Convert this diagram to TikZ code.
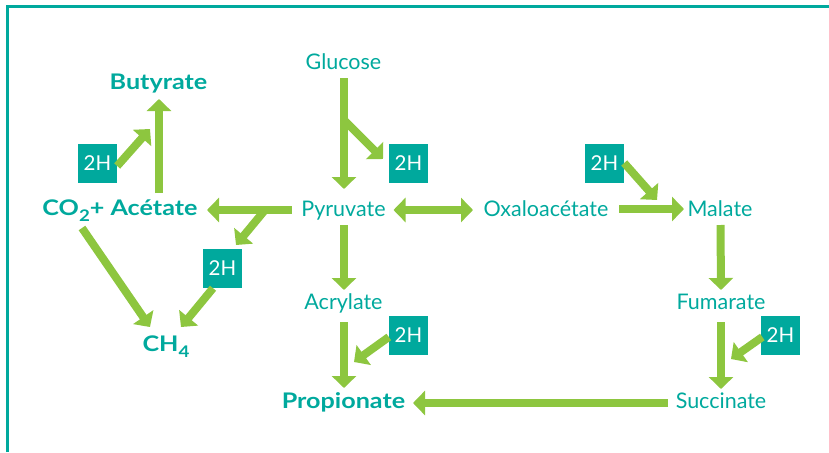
\documentclass[tikz,border=0pt]{standalone}
\usepackage{fontspec}
\setmainfont{Lato}
\newfontfamily\wideb[FakeStretch=1.17]{Lato Bold}
\usetikzlibrary{arrows.meta}
\definecolor{tealc}{HTML}{00A99D}
\definecolor{greenc}{HTML}{8DC63F}
\newcommand{\lowsub}[1]{\raisebox{-6pt}{\fontsize{16}{16}\selectfont #1}}
\tikzset{
  lbl/.style={text=tealc, font=\fontsize{21.5}{24}\selectfont, inner sep=0pt, anchor=base},
  blbl/.style={lbl, font=\fontsize{21.5}{24}\selectfont\wideb},
  hbox/.style={fill=tealc, text=white, minimum width=39pt, minimum height=39pt, inner sep=0pt, font=\fontsize{20.5}{24}\selectfont},
  arr/.style={draw=greenc, line width=8pt, -{Triangle[width=24pt,length=12pt]}},
  darr/.style={draw=greenc, line width=8pt, {Triangle[width=24pt,length=12pt]}-{Triangle[width=24pt,length=12pt]}},
}
\begin{document}
\begin{tikzpicture}[x=1pt,y=-1pt]
\useasboundingbox (0,0) rectangle (829,452);
\draw[tealc, line width=3pt] (7,452) -- (7,7) -- (829,7);
% labels
\node[lbl] (glu) at (343.5,69) {Glucose};
\node[lbl] (pyr) at (343.5,216) {Pyruvate};
\node[lbl] (oxa) at (546,216) {Oxaloacétate};
\node[lbl] (mal) at (720,216) {Malate};
\node[lbl] (acr) at (343.5,309) {Acrylate};
\node[lbl] (fum) at (721,309) {Fumarate};
\node[blbl] (pro) at (343.5,408) {Propionate};
\node[lbl] (suc) at (721,408) {Succinate};
\node[blbl] (ace) at (120,215) {CO\lowsub{2}+ Acétate};
\node[blbl] (but) at (158.5,89) {Butyrate};
\node[blbl] (ch4) at (166,351) {CH\lowsub{4}};
% 2H boxes
\node[hbox] (h1) at (97.5,163.5) {2H};
\node[hbox] (h2) at (408.5,163.5) {2H};
\node[hbox] (h3) at (222.5,268.5) {2H};
\node[hbox] (h4) at (604.5,163.5) {2H};
\node[hbox] (h5) at (408.5,335) {2H};
\node[hbox] (h6) at (780.5,335.5) {2H};
% coordinates
\coordinate (gb) at (344,120);
\coordinate (gt) at (383,159);
\coordinate (pb) at (265,210);
\coordinate (pt) at (236,245);
\coordinate (as) at (82,228);
\coordinate (at) at (150,327);
\coordinate (ct) at (181,327);
\coordinate (bs) at (159,193);
\coordinate (bt) at (159,99);
\coordinate (h1t) at (150,129);
\coordinate (h4t) at (657,200);
\coordinate (h5t) at (354,362);
\coordinate (h6t) at (731,359);
% arrows
\draw[arr] ([xshift=0.5pt,yshift=-9pt]glu.base) -- ([xshift=0.5pt,yshift=27pt]pyr.base);
\draw[arr] (gb) -- (gt);
\draw[darr] ([xshift=50pt,yshift=6pt]pyr.base) -- ([xshift=-73pt,yshift=6pt]oxa.base);
\draw[arr] ([xshift=-52pt,yshift=6pt]pyr.base) -- ([xshift=87pt,yshift=5pt]ace.base);
\draw[arr] (pb) -- (pt);
\draw[arr] ([xshift=-9.5pt]h3.south) -- (ct);
\draw[arr] (as) -- (at);
\draw[arr] (bs) -- (bt);
\draw[arr] ([yshift=-2.5pt]h1.east) -- (h1t);
\draw[arr] ([xshift=-101pt,yshift=7pt]mal.base) -- ([xshift=-36pt,yshift=7pt]mal.base);
\draw[arr] ([yshift=0.5pt]h4.east) -- (h4t);
\draw[arr] ([xshift=0.5pt,yshift=-9pt]mal.base) -- ([yshift=19pt]fum.base);
\draw[arr] ([yshift=-13pt]fum.base) -- ([yshift=19pt]suc.base);
\draw[arr] ([xshift=1.5pt,yshift=-1.5pt]h6.west) -- (h6t);
\draw[arr] ([xshift=0.5pt,yshift=-9pt]pyr.base) -- ([xshift=0.5pt,yshift=19pt]acr.base);
\draw[arr] ([xshift=0.5pt,yshift=-13pt]acr.base) -- ([xshift=0.5pt,yshift=20pt]pro.base);
\draw[arr] ([yshift=-2pt]h5.west) -- (h5t);
\draw[arr] ([xshift=-53pt,yshift=5pt]suc.base) -- ([xshift=69.5pt,yshift=5pt]pro.base);
\end{tikzpicture}
\end{document}
